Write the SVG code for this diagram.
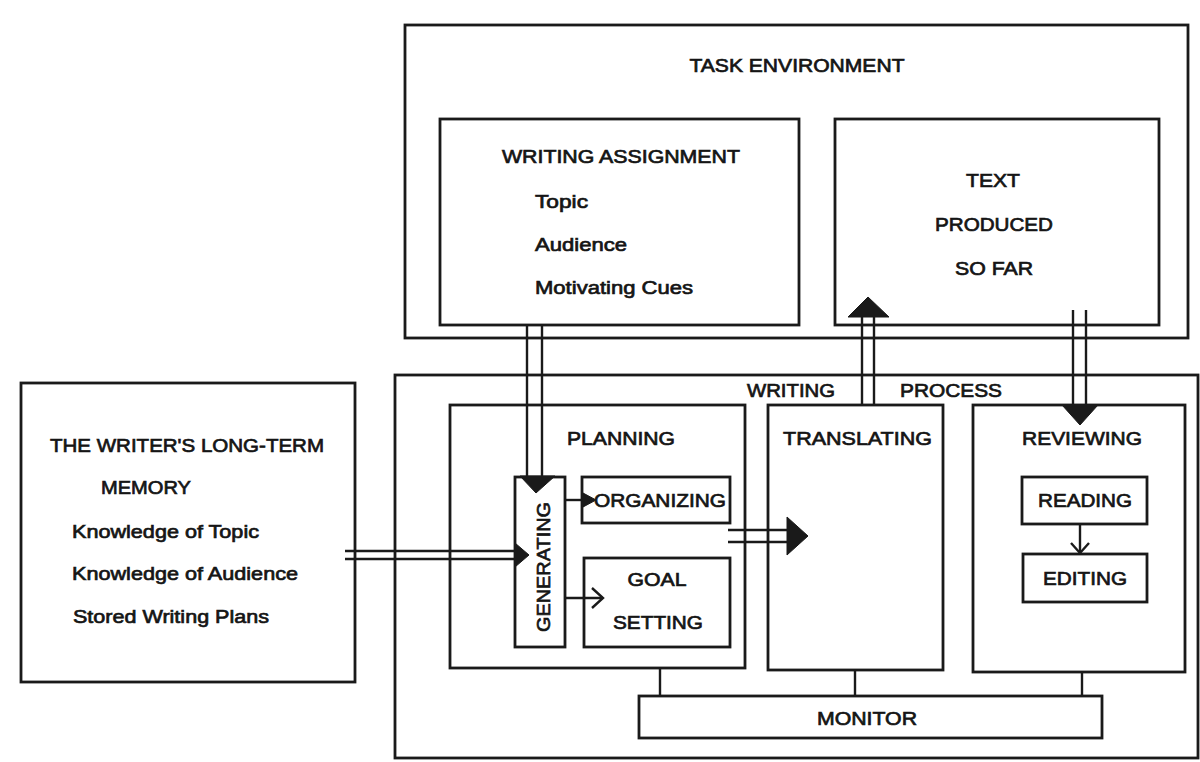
<svg xmlns="http://www.w3.org/2000/svg" width="1200" height="762" viewBox="0 0 1200 762">
<style>
.box{fill:none;stroke:#1a1a1a;stroke-width:2.8}
.ln{fill:none;stroke:#1a1a1a;stroke-width:2.4}
.hd{fill:#1a1a1a;stroke:#1a1a1a;stroke-width:1}
.t{font-family:"Liberation Sans",Arial,sans-serif;font-size:19px;fill:#151515;stroke:#151515;stroke-width:0.7}
.c{text-anchor:middle}
</style>
<rect width="1200" height="762" fill="#ffffff"/>

<g id="task-environment">
<rect class="box" x="405" y="25" width="783" height="313"/>
<text class="t c" x="797" y="72" textLength="215" lengthAdjust="spacingAndGlyphs">TASK ENVIRONMENT</text>
</g>

<g id="writing-assignment">
<rect class="box" x="440" y="119" width="359" height="206"/>
<text class="t c" x="621" y="163" textLength="238" lengthAdjust="spacingAndGlyphs">WRITING ASSIGNMENT</text>
<text class="t" x="535" y="208" textLength="53" lengthAdjust="spacingAndGlyphs">Topic</text>
<text class="t" x="535" y="251" textLength="92" lengthAdjust="spacingAndGlyphs">Audience</text>
<text class="t" x="535" y="294" textLength="158" lengthAdjust="spacingAndGlyphs">Motivating Cues</text>
</g>

<g id="text-produced">
<rect class="box" x="835" y="119" width="324" height="206"/>
<text class="t c" x="993" y="187" textLength="54" lengthAdjust="spacingAndGlyphs">TEXT</text>
<text class="t c" x="994" y="231" textLength="118" lengthAdjust="spacingAndGlyphs">PRODUCED</text>
<text class="t c" x="994" y="275" textLength="78" lengthAdjust="spacingAndGlyphs">SO FAR</text>
</g>

<g id="long-term-memory">
<rect class="box" x="21" y="383" width="334" height="299"/>
<text class="t" x="50" y="452" textLength="274" lengthAdjust="spacingAndGlyphs">THE WRITER'S LONG-TERM</text>
<text class="t" x="101" y="494" textLength="90" lengthAdjust="spacingAndGlyphs">MEMORY</text>
<text class="t" x="72" y="538" textLength="187" lengthAdjust="spacingAndGlyphs">Knowledge of Topic</text>
<text class="t" x="72" y="580" textLength="226" lengthAdjust="spacingAndGlyphs">Knowledge of Audience</text>
<text class="t" x="73" y="623" textLength="196" lengthAdjust="spacingAndGlyphs">Stored Writing Plans</text>
</g>

<g id="writing-process">
<rect class="box" x="395" y="375" width="803" height="383"/>
<text class="t" x="747" y="397" textLength="88" lengthAdjust="spacingAndGlyphs">WRITING</text>
<text class="t" x="900" y="397" textLength="102" lengthAdjust="spacingAndGlyphs">PROCESS</text>
</g>

<g id="planning">
<rect class="box" x="450" y="405" width="295" height="263"/>
<text class="t" x="567" y="445" textLength="108" lengthAdjust="spacingAndGlyphs">PLANNING</text>
</g>

<g id="generating">
<rect class="box" x="515" y="477" width="50" height="170"/>
<text class="t c" transform="translate(550,567) rotate(-90)" x="0" y="0" textLength="130" lengthAdjust="spacingAndGlyphs">GENERATING</text>
</g>

<g id="organizing">
<rect class="box" x="582" y="477" width="148" height="46"/>
<text class="t" x="594" y="507" textLength="132" lengthAdjust="spacingAndGlyphs">ORGANIZING</text>
</g>

<g id="goal-setting">
<rect class="box" x="584" y="558" width="146" height="89"/>
<text class="t c" x="657" y="586" textLength="59" lengthAdjust="spacingAndGlyphs">GOAL</text>
<text class="t c" x="658" y="629" textLength="90" lengthAdjust="spacingAndGlyphs">SETTING</text>
</g>

<g id="translating">
<rect class="box" x="768" y="405" width="175" height="265"/>
<text class="t" x="783" y="445" textLength="149" lengthAdjust="spacingAndGlyphs">TRANSLATING</text>
</g>

<g id="reviewing">
<rect class="box" x="973" y="405" width="212" height="267"/>
<text class="t" x="1022" y="445" textLength="120" lengthAdjust="spacingAndGlyphs">REVIEWING</text>
</g>

<g id="reading">
<rect class="box" x="1022" y="477" width="125" height="47"/>
<text class="t" x="1038" y="507" textLength="94" lengthAdjust="spacingAndGlyphs">READING</text>
</g>

<g id="editing">
<rect class="box" x="1023" y="554" width="124" height="48"/>
<text class="t" x="1043" y="585" textLength="84" lengthAdjust="spacingAndGlyphs">EDITING</text>
</g>

<g id="monitor">
<rect class="box" x="639" y="696" width="463" height="42"/>
<text class="t" x="817" y="725" textLength="100" lengthAdjust="spacingAndGlyphs">MONITOR</text>
</g>

<g id="connectors">
<!-- writing assignment -> generating -->
<line class="ln" x1="527" y1="325" x2="527" y2="478"/>
<line class="ln" x1="542" y1="325" x2="542" y2="478"/>
<polygon class="hd" points="520,476 555,476 536,493"/>
<!-- LTM -> generating -->
<line class="ln" x1="345" y1="551" x2="518" y2="551"/>
<line class="ln" x1="345" y1="559" x2="518" y2="559"/>
<polygon class="hd" points="515,543 529,555 515,567"/>
<!-- generating -> organizing -->
<line class="ln" x1="565" y1="500" x2="588" y2="500"/>
<polygon class="hd" points="583,493 596,500 583,507"/>
<!-- generating -> goal setting -->
<line class="ln" x1="565" y1="598" x2="603" y2="598"/>
<polyline class="ln" points="592,588 603,598 592,608"/>
<!-- planning -> translating -->
<line class="ln" x1="728" y1="530" x2="789" y2="530"/>
<line class="ln" x1="728" y1="542" x2="789" y2="542"/>
<polygon class="hd" points="787,517 808,536 787,555"/>
<!-- translating -> text produced -->
<line class="ln" x1="862" y1="405" x2="862" y2="315"/>
<line class="ln" x1="874" y1="405" x2="874" y2="315"/>
<polygon class="hd" points="848,317 868,297 889,317"/>
<!-- text produced -> reviewing -->
<line class="ln" x1="1073" y1="310" x2="1073" y2="407"/>
<line class="ln" x1="1086" y1="310" x2="1086" y2="407"/>
<polygon class="hd" points="1062,405 1098,405 1080,425"/>
<!-- reading -> editing -->
<line class="ln" x1="1080" y1="524" x2="1080" y2="553"/>
<polyline class="ln" points="1071,543 1080,553 1089,543"/>
<!-- monitor links -->
<line class="ln" x1="660" y1="668" x2="660" y2="696"/>
<line class="ln" x1="855" y1="670" x2="855" y2="696"/>
<line class="ln" x1="1082" y1="672" x2="1082" y2="696"/>
</g>
</svg>
